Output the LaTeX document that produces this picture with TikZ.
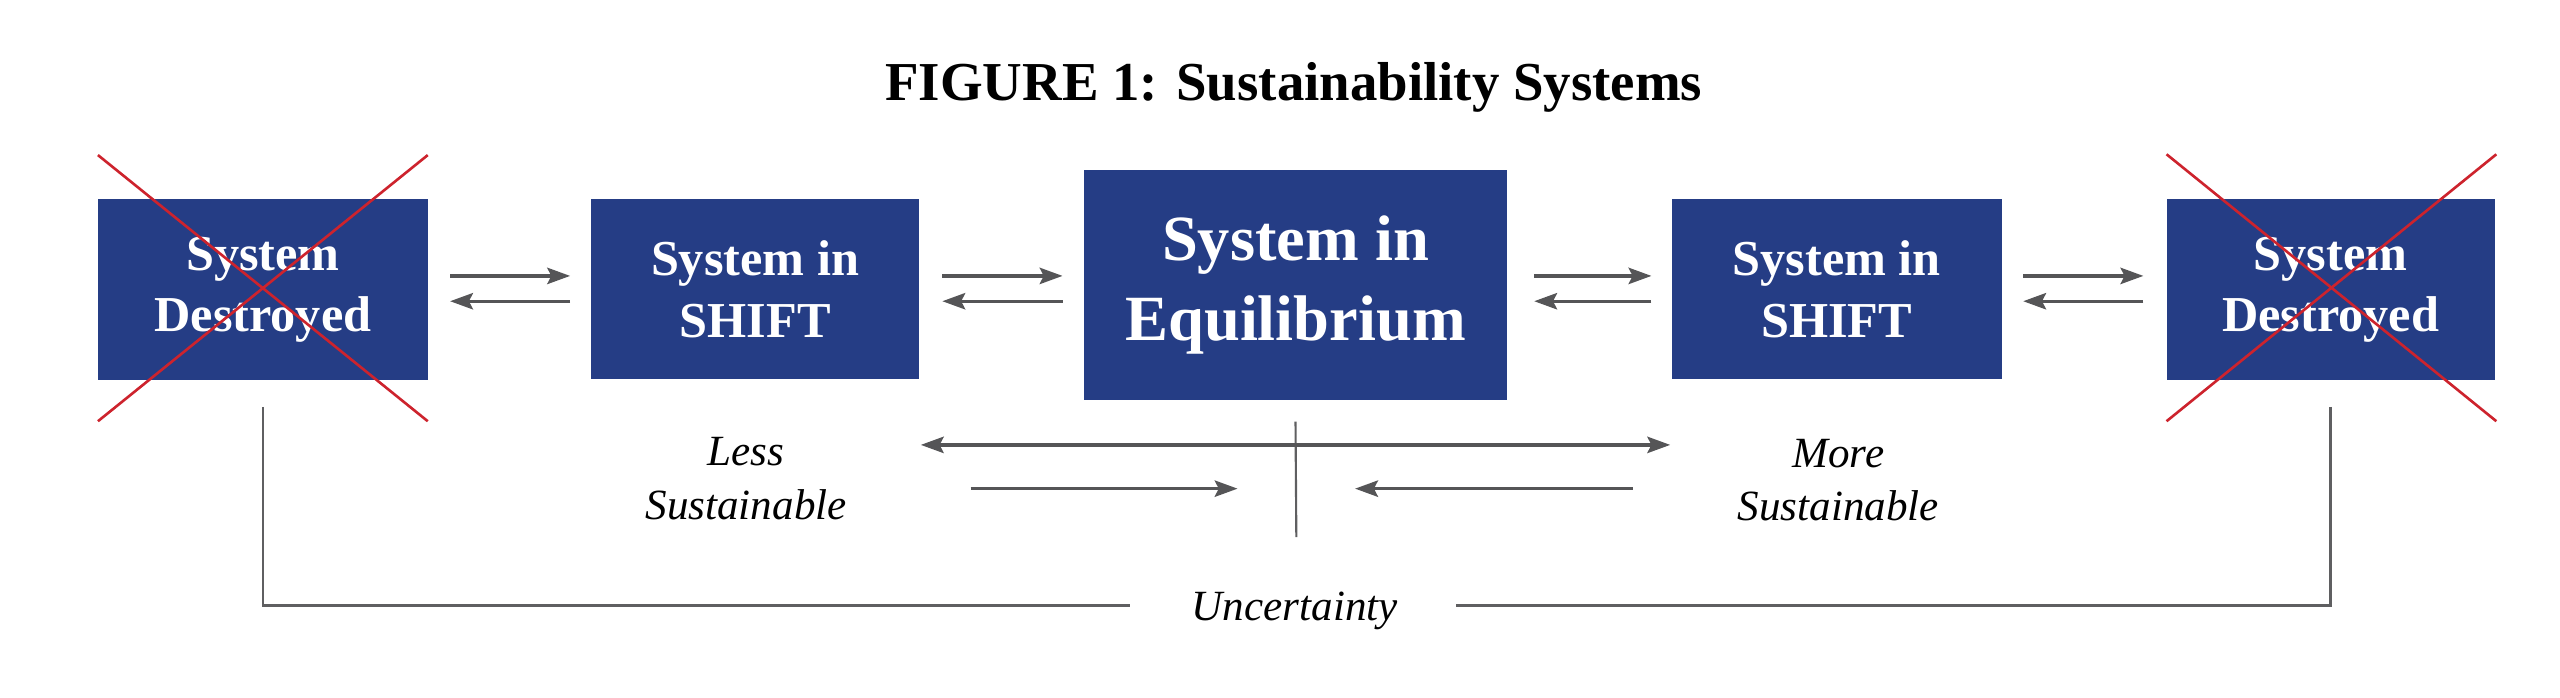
\documentclass[tikz,border=0pt]{standalone}
\usepackage{fontspec}
\setmainfont{Liberation Serif}
\usetikzlibrary{arrows.meta,calc}
\definecolor{boxblue}{RGB}{37,61,133}
\definecolor{xred}{RGB}{205,35,45}
\definecolor{arrgray}{RGB}{85,85,87}
\definecolor{linegray}{RGB}{95,95,97}
\tikzset{
  sysbox/.style={fill=boxblue, draw=none, text=white, align=center, inner sep=0pt,
    font=\bfseries\fontsize{30.8}{37.8}\selectfont},
  bigbox/.style={sysbox, font=\bfseries\fontsize{39.5}{48.6}\selectfont},
  crossline/.style={draw=xred, line width=1.6pt},
  arr/.style={draw=arrgray, line width=2pt, -{Stealth[length=14pt,width=10pt,inset=2.5pt]}},
  darr/.style={draw=arrgray, line width=2pt, {Stealth[length=14pt,width=10pt,inset=2.5pt]}-{Stealth[length=14pt,width=10pt,inset=2.5pt]}},
  thinline/.style={draw=linegray, line width=1.6pt},
  lbl/.style={font=\itshape\fontsize{26.4}{32}\selectfont, inner sep=0pt, anchor=base},
  ttl/.style={font=\bfseries\fontsize{33.6}{40}\selectfont, inner sep=0pt, anchor=base}
}
\begin{document}
\begin{tikzpicture}[x=1pt,y=-1pt]
\useasboundingbox (0,0) rectangle (1568,427.5);
% title
\node[ttl] (title) at (792.5,61.7) {FIGURE 1: Sustainability Systems};
% boxes
\node[sysbox, minimum width=202pt, minimum height=111pt] (b1) at (161,177.5) {System\\Destroyed};
\node[sysbox, minimum width=201pt, minimum height=110pt] (b2) at (462.5,177) {System in\\SHIFT};
\node[bigbox, minimum width=259pt, minimum height=141pt] (b3) at (793.5,174.5) {System in\\Equilibrium};
\node[sysbox, minimum width=202pt, minimum height=110pt] (b4) at (1125,177) {System in\\SHIFT};
\node[sysbox, minimum width=201pt, minimum height=111pt] (b5) at (1427.5,177.5) {System\\Destroyed};
% red crosses
\coordinate (x1a) at (60,95); \coordinate (x1b) at (262,258);
\coordinate (x1c) at (262,95); \coordinate (x1d) at (60,258);
\draw[crossline] (x1a) -- (x1b);
\draw[crossline] (x1c) -- (x1d);
\coordinate (x5a) at (1327,94.5); \coordinate (x5b) at (1529,258);
\coordinate (x5c) at (1529,94.5); \coordinate (x5d) at (1327,258);
\draw[crossline] (x5a) -- (x5b);
\draw[crossline] (x5c) -- (x5d);
% arrows between boxes
\draw[arr, shorten <=13.5pt, shorten >=12.6pt] (b1.east |- 0,169) -- (b2.west |- 0,169);
\draw[arr, shorten <=12.6pt, shorten >=13.5pt] (b2.west |- 0,184.5) -- (b1.east |- 0,184.5);
\draw[arr, shorten <=14pt, shorten >=13pt] (b2.east |- 0,169) -- (b3.west |- 0,169);
\draw[arr, shorten <=13pt, shorten >=14pt] (b3.west |- 0,184.5) -- (b2.east |- 0,184.5);
\draw[arr, shorten <=16.5pt, shorten >=12.3pt] (b3.east |- 0,169) -- (b4.west |- 0,169);
\draw[arr, shorten <=12.3pt, shorten >=16.5pt] (b4.west |- 0,184.5) -- (b3.east |- 0,184.5);
\draw[arr, shorten <=13pt, shorten >=14pt] (b4.east |- 0,169) -- (b5.west |- 0,169);
\draw[arr, shorten <=14pt, shorten >=13pt] (b5.west |- 0,184.5) -- (b4.east |- 0,184.5);
% labels
\node[lbl] (less1) at (457,285.4) {Less};
\node[lbl] (less2) at (457,318) {Sustainable};
\node[lbl] (more1) at (1126,286.5) {More};
\node[lbl] (more2) at (1126,319) {Sustainable};
\node[lbl] (unc) at (793,380) {Uncertainty};
% center scale
\coordinate (cbot) at (794,329);
\draw[thinline, line width=1.3pt] ([yshift=-13pt]b3.south) -- (cbot);
\coordinate (dl) at (564,272.5); \coordinate (dr) at (1023,272.5);
\draw[darr] (dl) -- (dr);
\coordinate (ra) at (594.5,299.3); \coordinate (rb) at (758,299.3);
\draw[arr] (ra) -- (rb);
\coordinate (la) at (1000,299.3); \coordinate (lb) at (830,299.3);
\draw[arr] (la) -- (lb);
% uncertainty bracket
\coordinate (uL) at (692,371);
\coordinate (uR) at (892,371);
\draw[thinline] ([yshift=-16pt]b1.south) |- (uL);
\draw[thinline] ([yshift=-16pt]b5.south) |- (uR);
\end{tikzpicture}
\end{document}
